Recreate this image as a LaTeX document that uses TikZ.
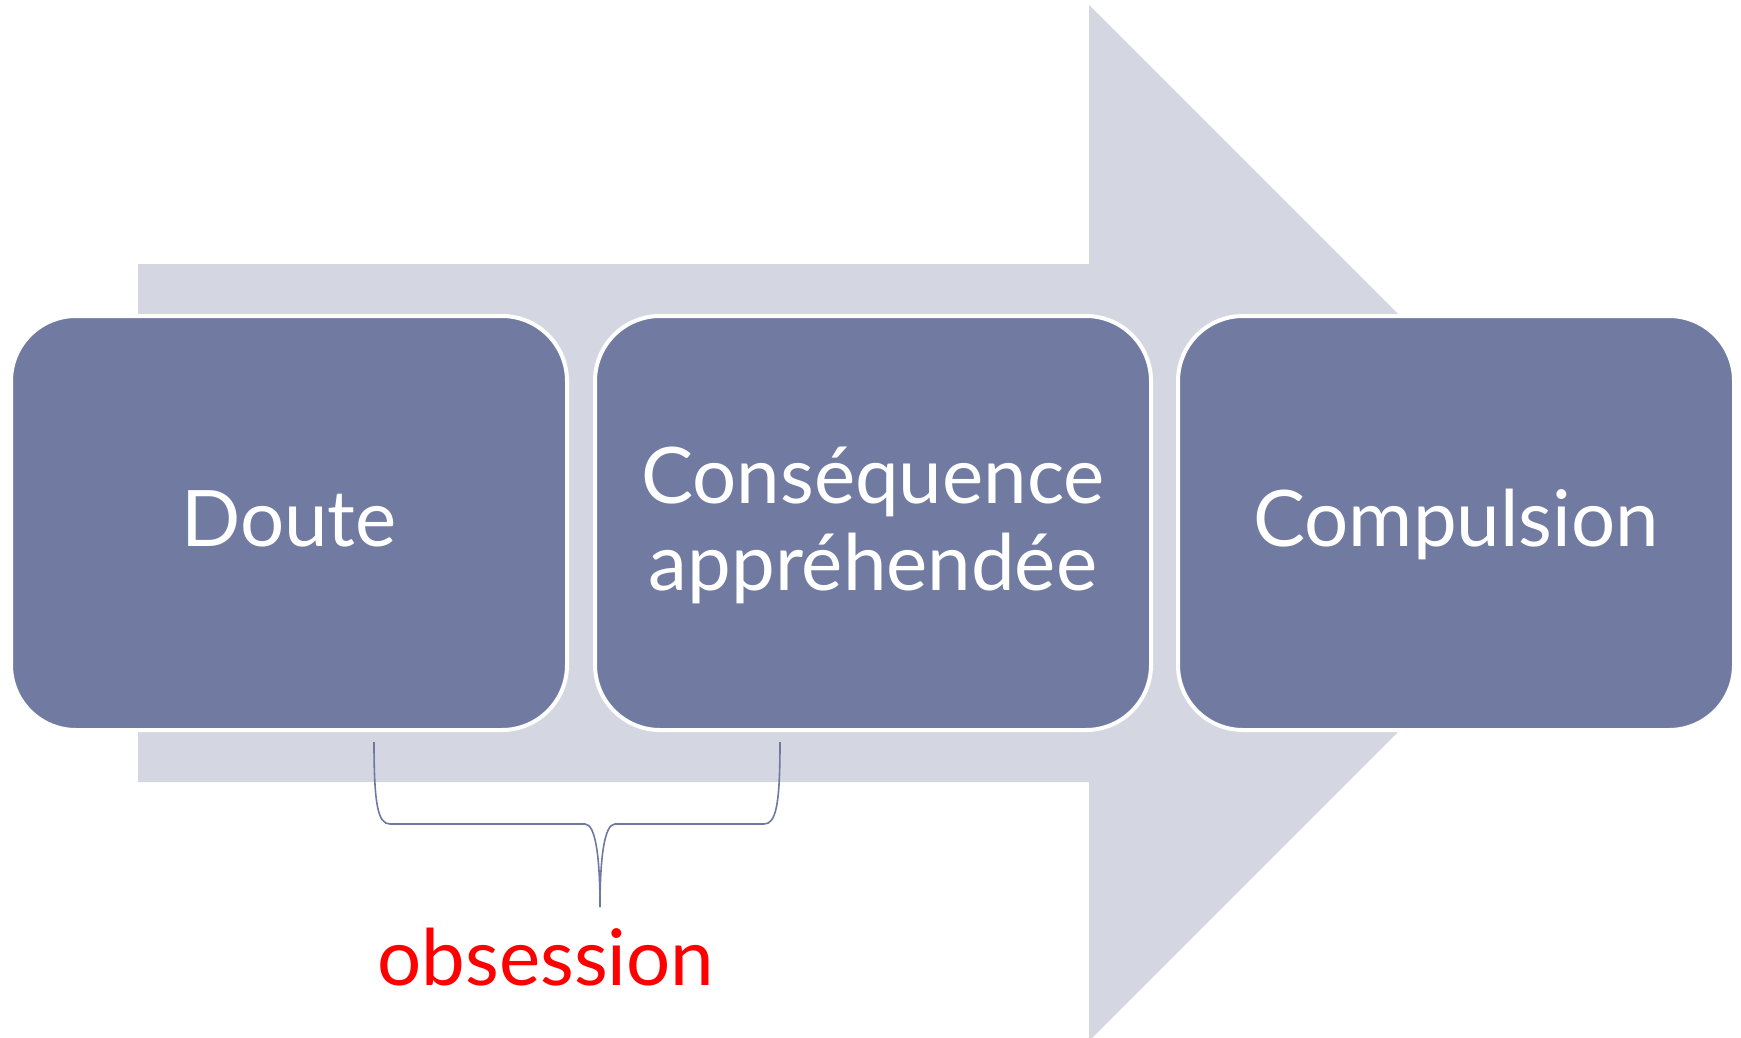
\documentclass[tikz,border=0pt]{standalone}
\usepackage{fontspec}
\setmainfont{Lato}
% place a label with its (first) baseline a fixed distance below/above the node centre
\newcommand{\baseat}[2]{\raisebox{#1}[0pt][0pt]{\begin{tabular}[t]{@{}c@{}}#2\end{tabular}}}
\begin{document}
\begin{tikzpicture}[x=1pt,y=-1pt,
  flow/.style={fill=flowgrey,draw=none},
  stepbox/.style={draw=white,line width=4pt,fill=boxblue,rounded corners=65pt,
    minimum width=556pt,minimum height=414pt,inner sep=0pt,text=white,
    font=\fontsize{78}{87}\selectfont},
  bracket/.style={draw=bracecol,line width=1.6pt},
  note/.style={text=red,font=\fontsize{78}{87}\selectfont,inner sep=0pt}]
\definecolor{flowgrey}{RGB}{212,215,225}
\definecolor{boxblue}{RGB}{113,123,161}
\definecolor{bracecol}{RGB}{110,120,162}
\renewcommand{\arraystretch}{1}
\useasboundingbox (0,0) rectangle (1741,1038);
% large background arrow
\fill[flow] (138,264) -- (1089,264) -- (1089,5) -- (1607,523) -- (1089,1041)
  -- (1089,782) -- (138,782) -- cycle;
% the three stages
\node[stepbox] (doute) at (289,523) {\baseat{-23pt}{Doute}};
\node[stepbox] (consequence) at (873,523) {\baseat{20pt}{Conséquence\\appréhendée}};
\node[stepbox] (compulsion) at (1456,523) {\baseat{-23pt}{Compulsion}};
% brace grouping the first two stages
\coordinate (bl) at (374,742);
\coordinate (br) at (780,742);
\coordinate (btip) at (600,907);
\draw[bracket] (bl) .. controls (374,805) and (378,824) .. (390,824) -- (585,824)
  .. controls (596,824) and (600,860) .. (btip);
\draw[bracket] (br) .. controls (780,805) and (776,824) .. (764,824) -- (615,824)
  .. controls (604,824) and (600,860) .. (btip);
\node[note,anchor=base] (obs) at (546,985) {obsession};
\end{tikzpicture}
\end{document}
